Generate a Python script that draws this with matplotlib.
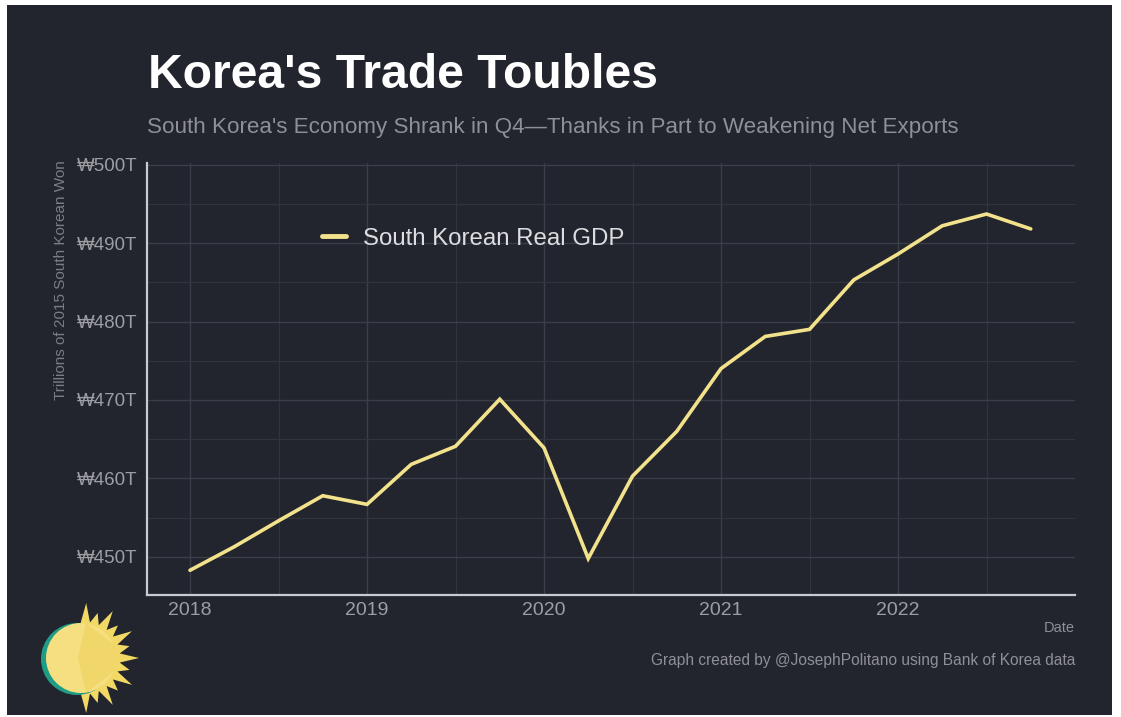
import numpy as np
import matplotlib.pyplot as plt
from matplotlib.patches import Rectangle, Circle, Polygon
from matplotlib.ticker import MultipleLocator, FuncFormatter

plt.rcParams['font.family'] = ['Liberation Sans', 'DejaVu Sans']

# Quarterly real GDP, trillions of 2015 won (2018 Q1 .. 2022 Q4)
quarters = [2018.0, 2018.25, 2018.5, 2018.75,
            2019.0, 2019.25, 2019.5, 2019.75,
            2020.0, 2020.25, 2020.5, 2020.75,
            2021.0, 2021.25, 2021.5, 2021.75,
            2022.0, 2022.25, 2022.5, 2022.75]
gdp = [448.3, 451.3, 454.6, 457.8,
       456.7, 461.8, 464.1, 470.1,
       463.9, 449.8, 460.3, 466.0,
       474.0, 478.1, 479.0, 485.3,
       488.6, 492.2, 493.7, 491.8]
year_ticks = [2018, 2019, 2020, 2021, 2022]
value_ticks = [450, 460, 470, 480, 490, 500]

bg = '#22252d'
grey = '#9c9ea4'
line_col = '#f3e28c'

W, H = 1121, 717
fig = plt.figure(figsize=(W / 100, H / 100), dpi=100, facecolor='white')

# dark panel with thin white margin
fig.patches.append(Rectangle((7 / W, 2 / H), (1112 - 7) / W, (712 - 2) / H,
                             transform=fig.transFigure, facecolor=bg,
                             edgecolor='none', zorder=-10))

ax = fig.add_axes([147 / W, 1 - 595 / H, (1075 - 147) / W, (595 - 163) / H])
ax.set_facecolor(bg)

ax.plot(quarters, gdp, color=line_col, lw=2.6, solid_capstyle='round',
        solid_joinstyle='miter', label='South Korean Real GDP', zorder=3)

ax.set_xlim(2017.757, 2023.0)
ax.set_ylim(445.15, 500.2)
ax.set_xticks(year_ticks)
ax.set_xticklabels([str(y) for y in year_ticks])
ax.set_yticks(value_ticks)
ax.yaxis.set_major_formatter(FuncFormatter(lambda v, p: '\u20a9%dT' % v))
ax.xaxis.set_minor_locator(MultipleLocator(0.5))
ax.yaxis.set_minor_locator(MultipleLocator(5))

ax.grid(which='major', color='#3a3e48', lw=1.0)
ax.grid(which='minor', color='#30343d', lw=0.9)
ax.set_axisbelow(True)

for s in ['top', 'right']:
    ax.spines[s].set_visible(False)
for s in ['left', 'bottom']:
    ax.spines[s].set_color('#c9cacf')
    ax.spines[s].set_linewidth(1.6)

ax.tick_params(which='both', length=0, colors=grey)
ax.tick_params(axis='y', pad=7, labelsize=13.5)
ax.tick_params(axis='x', pad=5, labelsize=14)

leg = ax.legend(loc='upper left', bbox_to_anchor=(0.165, 0.90), frameon=False,
                fontsize=17.3, handlelength=1.0, handletextpad=0.7)
for t in leg.get_texts():
    t.set_color('#dcdde0')
for h in leg.get_lines():
    h.set_linewidth(3.5)

fig.text(148 / W, 1 - 75 / H, "Korea's Trade Toubles", color='white',
         fontsize=34.6, fontweight='bold', va='center', ha='left')
fig.text(147 / W, 1 - 128 / H,
         "South Korea's Economy Shrank in Q4\u2014Thanks in Part to Weakening Net Exports",
         color='#8e9096', fontsize=16.1, va='center', ha='left')
fig.text(61 / W, 1 - 160 / H, 'Trillions of 2015 South Korean Won', color='#7c7e85',
         fontsize=11, rotation=90, va='top', ha='center')
fig.text(1075 / W, 1 - 628 / H, 'Date', color='#8e9096', fontsize=10.5,
         va='center', ha='right')
fig.text(1075 / W, 1 - 661 / H, 'Graph created by @JosephPolitano using Bank of Korea data',
         color='#8e9096', fontsize=11.2, va='center', ha='right')

# small sun logo in the lower left
sax = fig.add_axes([10 / W, 0, 140 / W, 127 / H])
sax.set_xlim(10, 150)
sax.set_ylim(717, 590)
sax.axis('off')
cx, cy = 84, 658
ang = np.linspace(-95, 95, 27)
pts = []
for i, a in enumerate(ang):
    r = 36 if i % 2 == 0 else (55 if i % 4 == 1 else 47)
    t = np.radians(a)
    pts.append((cx + r * np.cos(t), cy + r * np.sin(t)))
sax.add_patch(Polygon(pts, closed=True, facecolor='#f2d865', edgecolor='none'))
sax.add_patch(Circle((cx - 7, cy + 1), 36, facecolor='#1f9c86', edgecolor='none'))
sax.add_patch(Circle((cx - 3, cy), 35, facecolor='#f6df80', edgecolor='none'))
sax.add_patch(Polygon([(cx + 2, cy - 35), (cx + 34, cy - 10), (cx + 34, cy + 10),
                       (cx + 2, cy + 35), (cx - 6, cy)], closed=True,
                      facecolor='#f1d66a', edgecolor='none'))

fig.savefig('out.png', dpi=100, facecolor='white')
